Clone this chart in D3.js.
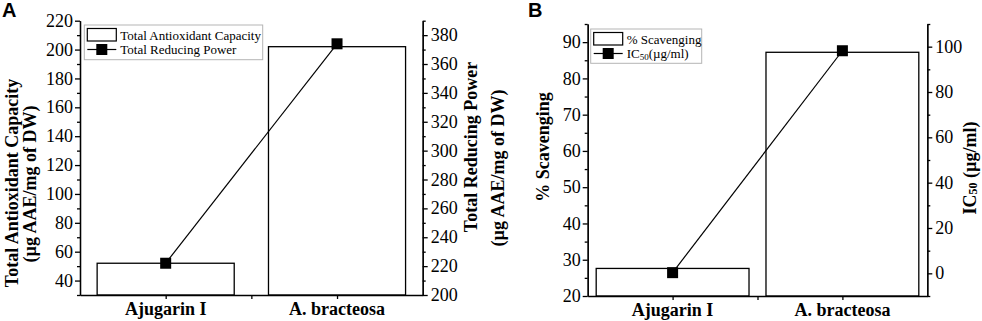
<!DOCTYPE html>
<html>
<head>
<meta charset="utf-8">
<script src="https://cdn.jsdelivr.net/npm/d3@7"></script>
<style>
  body { margin: 0; background: #fff; }
  .axis path, .axis line { stroke: #000; stroke-width: 1.3px; }
</style>
</head>
<body>
<div id="chart"></div>
<script>
// data
const categories = ["Ajugarin I", "A. bracteosa"];
const antioxidant = [52, 202];      // Total Antioxidant Capacity (bars, left axis A)
const reducing = [222, 374];        // Total Reducing Power (line, right axis A)
const scavenging = [27.6, 87.2];    // % Scavenging (bars, left axis B)
const ic50 = [0.3, 98.2];           // IC50 (line, right axis B)

const ticksLeftA = d3.range(40, 221, 20);
const ticksRightA = d3.range(200, 381, 20);
const ticksLeftB = d3.range(20, 91, 10);
const ticksRightB = d3.range(0, 101, 20);

const SERIF = "Liberation Serif";
const SANS = "Liberation Sans";

const svg = d3.select("#chart").append("svg")
  .attr("width", 982)
  .attr("height", 321);

// tick labels drawn as plain text so they keep the serif face
function labels(g, values, scale, pos, fmt, opts) {
  g.selectAll(null)
    .data(values)
    .enter().append("text")
    .attr("x", d => opts.vertical ? pos : scale(d))
    .attr("y", d => opts.vertical ? scale(d) : pos)
    .attr("dy", opts.vertical ? "0.34em" : 0)
    .attr("text-anchor", opts.anchor)
    .attr("font-family", SERIF)
    .attr("font-size", 18)
    .attr("font-weight", opts.bold ? "bold" : "normal")
    .attr("fill", "#000")
    .text(fmt);
}

function drawPanel(p) {
  const g = svg.append("g");
  const x = d3.scaleLinear().domain([0.5, 2.5]).range([p.x0, p.x1]);
  const yL = d3.scaleLinear().domain(p.leftDomain).range([p.yBottom, p.yTop]);
  const yR = d3.scaleLinear().domain(p.rightDomain).range([p.yBottom, p.yTop]);

  // bars
  const bw = (x(1) - x(0.5)) * 2 * p.barWidth;
  g.selectAll("rect.bar")
    .data(p.bars)
    .enter().append("rect")
    .attr("class", "bar")
    .attr("x", (d, i) => x(i + 1) - bw / 2)
    .attr("width", bw)
    .attr("y", d => yL(d))
    .attr("height", d => p.yBottom - yL(d))
    .attr("fill", "#fff")
    .attr("stroke", "#000")
    .attr("stroke-width", 1.3);

  // line + square markers
  const line = d3.line().x((d, i) => x(i + 1)).y(d => yR(d));
  g.append("path")
    .datum(p.line)
    .attr("d", line)
    .attr("fill", "none")
    .attr("stroke", "#000")
    .attr("stroke-width", 1.2);
  g.selectAll("rect.marker")
    .data(p.line)
    .enter().append("rect")
    .attr("class", "marker")
    .attr("x", (d, i) => x(i + 1) - 5.5)
    .attr("y", d => yR(d) - 5.5)
    .attr("width", 11)
    .attr("height", 11)
    .attr("fill", "#000");

  // ticks: minor first, majors on top; labels added by hand
  const minorL = d3.range(p.leftDomain[0], p.leftDomain[1] + 0.01, p.leftStep / 2)
    .filter(v => !p.leftTicks.includes(v));
  const minorR = d3.range(p.rightDomain[0], p.rightDomain[1] + 0.01, p.rightStep / 2)
    .filter(v => !p.rightTicks.includes(v));

  g.append("g").attr("class", "axis")
    .attr("transform", `translate(${p.x0},0)`)
    .call(d3.axisLeft(yL).tickValues(minorL).tickSize(3).tickFormat("").tickSizeOuter(0));
  g.append("g").attr("class", "axis")
    .attr("transform", `translate(${p.x0},0)`)
    .call(d3.axisLeft(yL).tickValues(p.leftTicks).tickSize(5).tickFormat("").tickSizeOuter(0));
  labels(g, p.leftTicks, yL, p.x0 - 7, d => d, { vertical: true, anchor: "end" });

  g.append("g").attr("class", "axis")
    .attr("transform", `translate(${p.x1},0)`)
    .call(d3.axisRight(yR).tickValues(minorR).tickSize(3).tickFormat("").tickSizeOuter(0));
  g.append("g").attr("class", "axis")
    .attr("transform", `translate(${p.x1},0)`)
    .call(d3.axisRight(yR).tickValues(p.rightTicks).tickSize(5).tickFormat("").tickSizeOuter(0));
  labels(g, p.rightTicks, yR, p.x1 + 8, d => d, { vertical: true, anchor: "start" });

  g.append("g").attr("class", "axis")
    .attr("transform", `translate(0,${p.yBottom})`)
    .call(d3.axisBottom(x).tickValues([1, 1.5, 2]).tickSize(4).tickFormat("").tickSizeOuter(0));
  labels(g, [1, 2], x, p.yBottom + 20, d => categories[d - 1], { vertical: false, anchor: "middle", bold: true });

  // axis titles
  p.titles.forEach(t => {
    const txt = g.append("text")
      .attr("transform", `translate(${t.x},${t.y}) rotate(-90)`)
      .attr("text-anchor", "middle")
      .attr("dominant-baseline", "central")
      .attr("font-family", SERIF)
      .attr("font-size", 18)
      .attr("font-weight", "bold");
    t.parts.forEach(part => {
      txt.append("tspan")
        .attr("font-size", part.sub ? 12 : 18)
        .attr("baseline-shift", part.sub ? "-25%" : null)
        .text(part.s);
    });
  });

  // panel letter
  g.append("text")
    .attr("x", p.letterX)
    .attr("y", 17)
    .attr("font-family", SANS)
    .attr("font-size", 20)
    .attr("font-weight", "bold")
    .text(p.letter);

  // legend
  const L = p.legend;
  g.append("rect")
    .attr("x", L.x).attr("y", L.y).attr("width", L.w).attr("height", L.h)
    .attr("fill", "#fff").attr("stroke", "#b5b5b5").attr("stroke-width", 1);
  g.append("rect")
    .attr("x", L.x + 3).attr("y", L.y + 3.5).attr("width", 29).attr("height", 12.5)
    .attr("fill", "#fff").attr("stroke", "#000").attr("stroke-width", 1.2);
  g.append("line")
    .attr("x1", L.x + 3).attr("x2", L.x + 32)
    .attr("y1", L.y + 24.5).attr("y2", L.y + 24.5)
    .attr("stroke", "#000").attr("stroke-width", 1.2);
  g.append("rect")
    .attr("x", L.x + 17.5 - 5.5).attr("y", L.y + 24.5 - 5.5)
    .attr("width", 11).attr("height", 11).attr("fill", "#000");
  g.append("text")
    .attr("x", L.x + 36).attr("y", L.y + 14.5)
    .attr("font-family", SERIF)
    .attr("font-size", 13).text(L.labels[0]);
  const t2 = g.append("text")
    .attr("x", L.x + 36).attr("y", L.y + 29)
    .attr("font-family", SERIF)
    .attr("font-size", 13);
  L.labels[1].forEach(part => {
    t2.append("tspan")
      .attr("font-size", part.sub ? 9 : 13)
      .attr("baseline-shift", part.sub ? "-25%" : null)
      .text(part.s);
  });
}

drawPanel({
  x0: 80, x1: 422.7, yTop: 20.7, yBottom: 295,
  leftDomain: [30, 220], rightDomain: [200, 390],
  leftTicks: ticksLeftA, rightTicks: ticksRightA, leftStep: 20, rightStep: 20,
  barWidth: 0.8,
  bars: antioxidant, line: reducing,
  letter: "A", letterX: 2,
  titles: [
    { x: 12, y: 183, parts: [{ s: "Total Antioxidant Capacity" }] },
    { x: 30, y: 184, parts: [{ s: "(µg AAE/mg of DW)" }] },
    { x: 471, y: 147, parts: [{ s: "Total Reducing Power" }] },
    { x: 498, y: 168, parts: [{ s: "(µg AAE/mg of DW)" }] }
  ],
  legend: { x: 84.3, y: 25, w: 178.4, h: 34.7,
    labels: ["Total Antioxidant Capacity", [{ s: "Total Reducing Power" }]] }
});

drawPanel({
  x0: 587.7, x1: 927.3, yTop: 24, yBottom: 296,
  leftDomain: [20, 95], rightDomain: [-10, 110],
  leftTicks: ticksLeftB, rightTicks: ticksRightB, leftStep: 10, rightStep: 20,
  barWidth: 0.9,
  bars: scavenging, line: ic50,
  letter: "B", letterX: 528,
  titles: [
    { x: 543, y: 147, parts: [{ s: "% Scavenging" }] },
    { x: 970, y: 168, parts: [{ s: "IC" }, { s: "50", sub: true }, { s: " (µg/ml)" }] }
  ],
  legend: { x: 590.7, y: 29, w: 111, h: 34.3,
    labels: ["% Scavenging", [{ s: "IC" }, { s: "50", sub: true }, { s: "(µg/ml)" }]] }
});
</script>
</body>
</html>
